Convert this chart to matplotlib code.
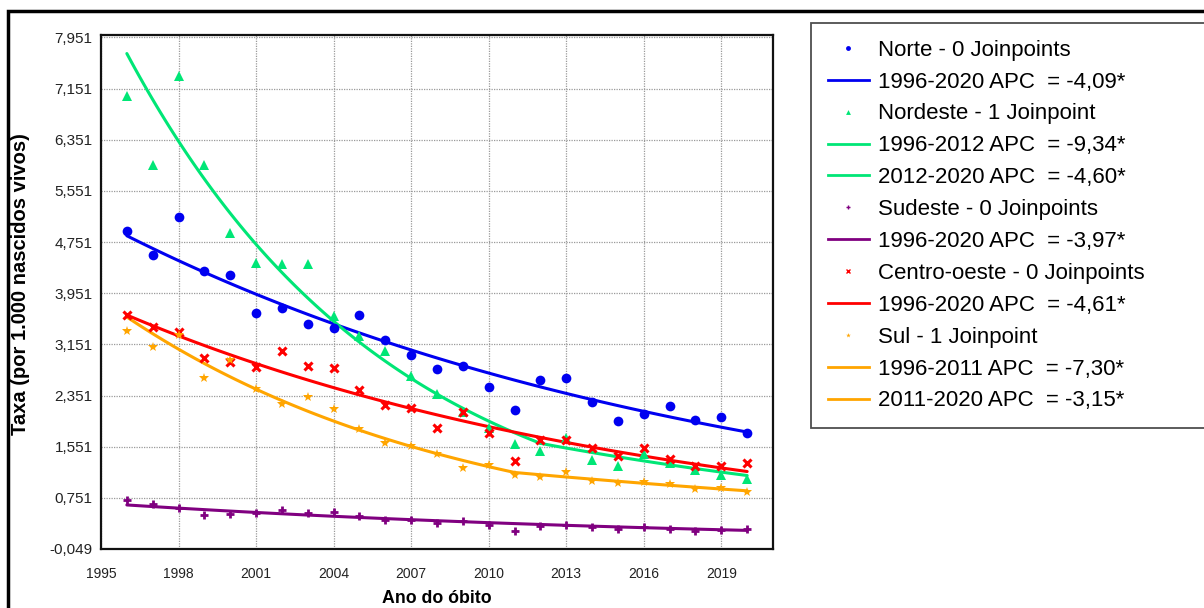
import numpy as np
import matplotlib
matplotlib.use("Agg")
import matplotlib.pyplot as plt
from matplotlib.lines import Line2D
from matplotlib.patches import Rectangle

plt.rcParams['font.family'] = ['Liberation Sans', 'DejaVu Sans']

years = list(range(1996, 2021))

norte = [4.93, 4.55, 5.14, 4.30, 4.24, 3.64, 3.72, 3.47, 3.40, 3.61, 3.22,
         2.98, 2.76, 2.82, 2.49, 2.13, 2.59, 2.63, 2.25, 1.96, 2.06, 2.18,
         1.97, 2.01, 1.77]
nordeste = [7.03, 5.95, 7.35, 5.96, 4.90, 4.43, 4.41, 4.41, 3.59, 3.28, 3.04,
            2.65, 2.37, 2.09, 1.84, 1.60, 1.48, 1.68, 1.34, 1.25, 1.43, 1.29,
            1.18, 1.11, 1.04]
sudeste = [0.71, 0.66, 0.60, 0.49, 0.50, 0.51, 0.56, 0.52, 0.53, 0.46, 0.41,
           0.40, 0.35, 0.39, 0.33, 0.24, 0.31, 0.32, 0.29, 0.27, 0.29, 0.27,
           0.24, 0.25, 0.27]
centro_oeste = [3.61, 3.43, 3.35, 2.94, 2.87, 2.79, 3.04, 2.82, 2.78, 2.44, 2.20,
                2.15, 1.84, 2.09, 1.77, 1.33, 1.65, 1.65, 1.53, 1.40, 1.53, 1.36,
                1.25, 1.25, 1.29]
sul = [3.36, 3.11, 3.30, 2.62, 2.90, 2.46, 2.22, 2.33, 2.14, 1.82, 1.61,
       1.56, 1.43, 1.22, 1.26, 1.11, 1.07, 1.15, 1.01, 0.98, 1.00, 0.96,
       0.89, 0.90, 0.84]

# Joinpoint model segments: (start year, end year, APC %), and fitted value at 1996
norte_segments = [(1996, 2020, -4.09)]
nordeste_segments = [(1996, 2012, -9.34), (2012, 2020, -4.60)]
sudeste_segments = [(1996, 2020, -3.97)]
centro_segments = [(1996, 2020, -4.61)]
sul_segments = [(1996, 2011, -7.30), (2011, 2020, -3.15)]
fit_start = {'Norte': 4.85, 'Nordeste': 7.70, 'Sudeste': 0.64,
             'Centro-oeste': 3.61, 'Sul': 3.58}

legend_labels = ['Norte - 0 Joinpoints', '1996-2020 APC  = -4,09*',
                 'Nordeste - 1 Joinpoint', '1996-2012 APC  = -9,34*', '2012-2020 APC  = -4,60*',
                 'Sudeste - 0 Joinpoints', '1996-2020 APC  = -3,97*',
                 'Centro-oeste - 0 Joinpoints', '1996-2020 APC  = -4,61*',
                 'Sul - 1 Joinpoint', '1996-2011 APC  = -7,30*', '2011-2020 APC  = -3,15*']

yticks = [-0.049, 0.751, 1.551, 2.351, 3.151, 3.951, 4.751, 5.551, 6.351, 7.151, 7.951]
yticklabels = ['-0,049', '0,751', '1,551', '2,351', '3,151', '3,951', '4,751',
               '5,551', '6,351', '7,151', '7,951']
xticks = [1995, 1998, 2001, 2004, 2007, 2010, 2013, 2016, 2019]

BLUE = '#0000F0'
GREEN = '#00E676'
PURPLE = '#800080'
RED = '#FF0000'
ORANGE = '#FFA500'

fig = plt.figure(figsize=(12.04, 6.08), dpi=100)
ax = fig.add_axes([101/1204, 59/608, 672/1204, 514/608])

series = [
    ('Norte', norte, norte_segments, BLUE, dict(marker='o', ms=7, mew=0)),
    ('Nordeste', nordeste, nordeste_segments, GREEN, dict(marker='^', ms=7, mew=0)),
    ('Sudeste', sudeste, sudeste_segments, PURPLE, dict(marker='+', ms=5.5, mew=2)),
    ('Centro-oeste', centro_oeste, centro_segments, RED, dict(marker='x', ms=5.5, mew=2.2)),
    ('Sul', sul, sul_segments, ORANGE, dict(marker='*', ms=7.5, mew=0)),
]

handles = []
for name, vals, segs, col, mk in series:
    ax.plot(years, vals, linestyle='none', color=col, zorder=3, **mk)
    v0 = fit_start[name]
    for (a, b, apc) in segs:
        t = np.linspace(a, b, 100)
        yv = v0 * (1 + apc / 100.0) ** (t - a)
        ax.plot(t, yv, color=col, lw=2.2, zorder=2, solid_capstyle='round')
        v0 = yv[-1]
    handles.append(Line2D([], [], linestyle='none', marker=mk['marker'],
                          color=col, ms=3.5, mew=1 if mk['marker'] in ('+', 'x') else 0))
    for _ in segs:
        handles.append(Line2D([], [], color=col, lw=2))

ax.set_xlim(1995, 2021)
ax.set_ylim(-0.049, 7.99)
ax.set_xticks(xticks)
ax.set_xticklabels([str(x) for x in xticks], fontsize=10)
ax.set_yticks(yticks)
ax.set_yticklabels(yticklabels, fontsize=11)
ax.tick_params(axis='both', length=0, colors='#222222')
ax.tick_params(axis='x', pad=13)
ax.tick_params(axis='y', pad=6)
ax.grid(True, color='#9a9a9a', linestyle=(0, (1, 1)), lw=0.9)
ax.set_axisbelow(True)
for s in ax.spines.values():
    s.set_linewidth(1.6)
    s.set_color('#111111')

fig.text(21/1204, 1 - 284/608, 'Taxa (por 1.000 nascidos vivos)', rotation=90,
         ha='center', va='center', fontsize=14.5, fontweight='bold')
fig.text(437/1204, 0.001, 'Ano do óbito', ha='center', va='bottom',
         fontsize=12.8, fontweight='bold')

leg = fig.legend(handles, legend_labels, loc='upper left',
                 bbox_to_anchor=(811/1204, 1 - 23/608, (1215 - 811)/1204, 0.0),
                 mode='expand', fontsize=16, frameon=True, fancybox=False,
                 edgecolor='#222222', borderaxespad=0, borderpad=0.75,
                 labelspacing=0.49, handlelength=1.85, handletextpad=0.42,
                 markerscale=1.0)
leg.get_frame().set_linewidth(1.3)

fig.patches.append(Rectangle((8/1204, -0.05), 1.2, 1 - 11/608 + 0.05,
                             transform=fig.transFigure, fill=False,
                             edgecolor='black', lw=2.5, zorder=0))

fig.savefig('out.png', dpi=100)
